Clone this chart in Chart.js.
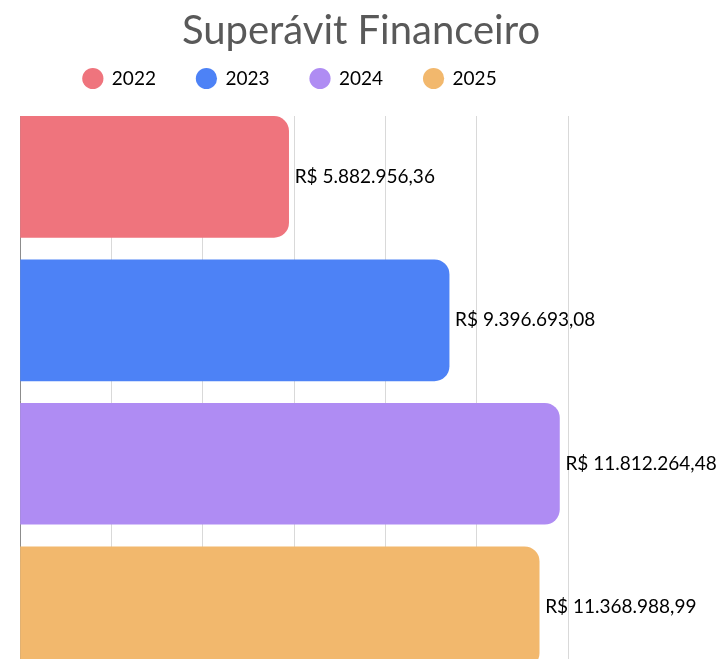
<!DOCTYPE html>
<html>
<head>
<meta charset="utf-8">
<script src="https://cdn.jsdelivr.net/npm/chart.js@4/dist/chart.umd.min.js"></script>
<style>
html,body{margin:0;padding:0;overflow:hidden;background:#fff;width:722px;height:659px;}
#wrap{width:722px;height:684px;}
</style>
</head>
<body>
<div id="wrap"><canvas id="c" width="722" height="684"></canvas></div>
<script>
const years = ['2022', '2023', '2024', '2025'];
const values = [5882956.36, 9396693.08, 11812264.48, 11368988.99];
const colors = ['#EF747D', '#4D82F6', '#AF8CF3', '#F2B86D'];
const xTicks = [0, 2000000, 4000000, 6000000, 8000000, 10000000, 12000000];
const titleText = 'Superávit Financeiro';

function fmtBRL(v) {
  const parts = v.toFixed(2).split('.');
  const int = parts[0].replace(/\B(?=(\d{3})+(?!\d))/g, '.');
  return 'R$ ' + int + ',' + parts[1];
}

const FONT = 'Lato, "Open Sans", sans-serif';
const PAD_TOP = 28;
const CHART_TOP = 116;

const valueLabels = {
  id: 'valueLabels',
  afterDatasetsDraw(chart) {
    const ctx = chart.ctx;
    ctx.save();
    ctx.font = '19px ' + FONT;
    ctx.fillStyle = '#000';
    ctx.textBaseline = 'middle';
    ctx.textAlign = 'left';
    chart.data.datasets.forEach((ds, i) => {
      const meta = chart.getDatasetMeta(i);
      meta.data.forEach((bar, j) => {
        ctx.fillText(fmtBRL(ds.data[j].x), bar.x + 6, bar.y);
      });
    });
    ctx.restore();
  }
};

const centeredTitle = {
  id: 'centeredTitle',
  afterDraw(chart) {
    const ctx = chart.ctx;
    ctx.save();
    ctx.font = '40px ' + FONT;
    ctx.fillStyle = '#595959';
    ctx.textAlign = 'center';
    ctx.textBaseline = 'alphabetic';
    ctx.fillText(titleText, chart.width / 2, 44);
    ctx.restore();
  }
};

const legendSpace = {
  id: 'legendSpace',
  beforeInit(chart) {
    const lg = chart.legend;
    if (lg && !lg._wrapped) {
      const orig = lg.fit;
      lg.fit = function () {
        orig.call(this);
        this.height = CHART_TOP - PAD_TOP;
      };
      lg._wrapped = true;
    }
  }
};

const datasets = years.map((y, i) => ({
  label: y,
  data: [{ x: values[i], y: i }],
  backgroundColor: colors[i],
  borderColor: colors[i],
  borderWidth: 0,
  borderRadius: 15,
  borderSkipped: 'start',
  barThickness: 121,
  grouped: false
}));

new Chart(document.getElementById('c'), {
  type: 'bar',
  data: { datasets },
  options: {
    responsive: false,
    animation: false,
    indexAxis: 'y',
    layout: { padding: { left: 12, right: 154, top: PAD_TOP, bottom: 0 } },
    plugins: {
      title: { display: false },
      legend: {
        display: true,
        labels: {
          usePointStyle: true,
          pointStyle: 'circle',
          boxWidth: 20,
          boxHeight: 15,
          color: '#000',
          padding: 41,
          font: { family: FONT, size: 19 }
        }
      },
      tooltip: { enabled: false }
    },
    scales: {
      x: {
        type: 'linear',
        min: 0,
        max: 12000000,
        afterBuildTicks: (s) => { s.ticks = xTicks.map(v => ({ value: v })); },
        ticks: { display: false },
        grid: { color: '#D9D9D9', drawTicks: false },
        border: { display: false }
      },
      y: {
        type: 'linear',
        reverse: true,
        offset: false,
        min: -0.424,
        max: 3.535,
        ticks: { display: false },
        grid: { display: false, offset: false },
        border: { display: true, color: '#8C8C8C', width: 1 }
      }
    }
  },
  plugins: [legendSpace, valueLabels, centeredTitle]
});
</script>
</body>
</html>
